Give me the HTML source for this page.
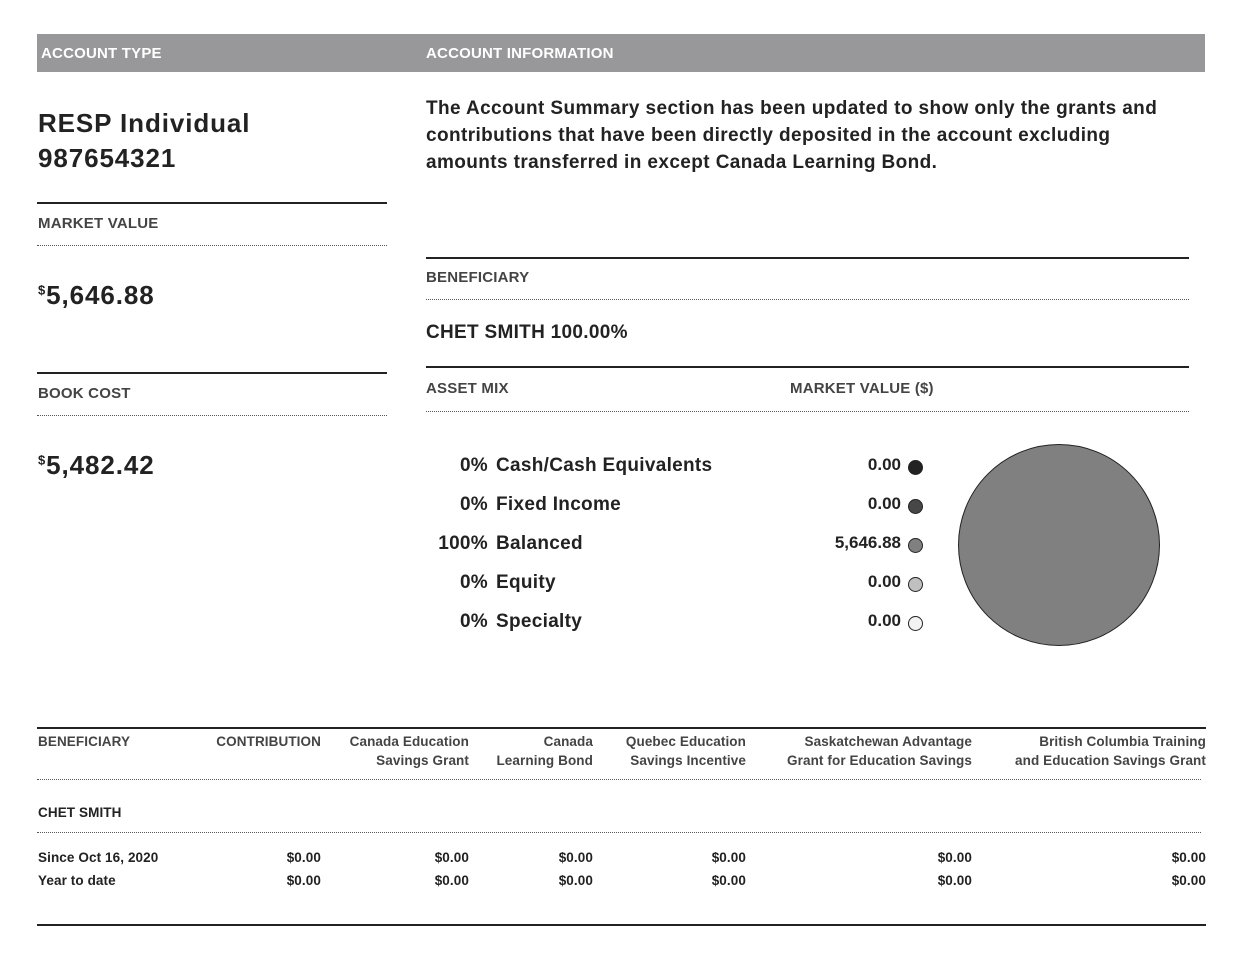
<!DOCTYPE html>
<html><head><meta charset="utf-8"><style>
*{margin:0;padding:0;box-sizing:border-box}
body{width:1246px;height:974px;background:#fff;font-family:"Liberation Sans",sans-serif;color:#222;position:relative;overflow:hidden}
.a{position:absolute;white-space:nowrap;font-weight:bold}
.hdr{position:absolute;left:37px;top:34px;width:1168px;height:38px;background:#98989a}
.hl{position:absolute;color:#fff;font-size:15px;top:45px;letter-spacing:0.2px}
.line{position:absolute;height:2px;background:#222}
.dot{position:absolute;border-top:1px dotted #555;height:0}
.lab{font-size:15px;color:#444;letter-spacing:0.2px}
.big{font-size:26px;letter-spacing:0.9px}
.r{text-align:right}
.c{position:absolute;border-radius:50%;border:1px solid #222;width:15px;height:15px}
.am{font-size:19px;letter-spacing:0.3px}
.th{font-size:13.5px;color:#444;line-height:19px;letter-spacing:0.1px}
.td{font-size:13.5px;letter-spacing:0.1px}
</style></head><body>
<div class="hdr"></div>
<div class="hl a" style="left:41px">ACCOUNT TYPE</div>
<div class="hl a" style="left:426px">ACCOUNT INFORMATION</div>

<div class="a big" style="left:38px;top:106px;line-height:35px">RESP Individual<br>987654321</div>
<div class="a" style="left:426px;top:95px;font-size:19px;line-height:27px;letter-spacing:0.4px">The Account Summary section has been updated to show only the grants and<br>contributions that have been directly deposited in the account excluding<br>amounts transferred in except Canada Learning Bond.</div>

<div class="line" style="left:37px;top:202px;width:350px"></div>
<div class="a lab" style="left:38px;top:215px">MARKET VALUE</div>
<div class="dot" style="left:37px;top:245px;width:350px"></div>
<div class="a big" style="left:38px;top:280px"><sup style="font-size:13px">$</sup>5,646.88</div>

<div class="line" style="left:37px;top:372px;width:350px"></div>
<div class="a lab" style="left:38px;top:385px">BOOK COST</div>
<div class="dot" style="left:37px;top:415px;width:350px"></div>
<div class="a big" style="left:38px;top:450px"><sup style="font-size:13px">$</sup>5,482.42</div>

<div class="line" style="left:426px;top:257px;width:763px"></div>
<div class="a lab" style="left:426px;top:269px">BENEFICIARY</div>
<div class="dot" style="left:426px;top:299px;width:763px"></div>
<div class="a" style="left:426px;top:322px;font-size:19px;letter-spacing:0.3px">CHET SMITH 100.00%</div>

<div class="line" style="left:426px;top:366px;width:763px"></div>
<div class="a lab" style="left:426px;top:380px">ASSET MIX</div>
<div class="a lab" style="left:790px;top:380px">MARKET VALUE ($)</div>
<div class="dot" style="left:426px;top:411px;width:763px"></div>

<div class="a am r" style="left:420px;width:68px;top:455px">0%</div><div class="a am" style="left:496px;top:455px">Cash/Cash Equivalents</div>
<div class="a am r" style="left:420px;width:68px;top:494px">0%</div><div class="a am" style="left:496px;top:494px">Fixed Income</div>
<div class="a am r" style="left:420px;width:68px;top:533px">100%</div><div class="a am" style="left:496px;top:533px">Balanced</div>
<div class="a am r" style="left:420px;width:68px;top:572px">0%</div><div class="a am" style="left:496px;top:572px">Equity</div>
<div class="a am r" style="left:420px;width:68px;top:611px">0%</div><div class="a am" style="left:496px;top:611px">Specialty</div>

<div class="a r" style="left:780px;width:121px;top:455px;font-size:17px">0.00</div>
<div class="a r" style="left:780px;width:121px;top:494px;font-size:17px">0.00</div>
<div class="a r" style="left:780px;width:121px;top:533px;font-size:17px">5,646.88</div>
<div class="a r" style="left:780px;width:121px;top:572px;font-size:17px">0.00</div>
<div class="a r" style="left:780px;width:121px;top:611px;font-size:17px">0.00</div>
<div class="c" style="left:908px;top:460px;background:#222"></div>
<div class="c" style="left:908px;top:499px;background:#474747"></div>
<div class="c" style="left:908px;top:538px;background:#808080"></div>
<div class="c" style="left:908px;top:577px;background:#c0c0c0"></div>
<div class="c" style="left:908px;top:616px;background:#f2f2f2"></div>
<div style="position:absolute;left:958px;top:444px;width:202px;height:202px;border-radius:50%;background:#808080;border:1.5px solid #222"></div>

<div class="line" style="left:37px;top:727px;width:1169px"></div>
<div class="a th" style="left:38px;top:732px">BENEFICIARY</div>
<div class="a th r" style="left:180px;width:141px;top:732px">CONTRIBUTION</div>
<div class="a th r" style="left:320px;width:149px;top:732px">Canada Education<br>Savings Grant</div>
<div class="a th r" style="left:470px;width:123px;top:732px">Canada<br>Learning Bond</div>
<div class="a th r" style="left:600px;width:146px;top:732px">Quebec Education<br>Savings Incentive</div>
<div class="a th r" style="left:760px;width:212px;top:732px">Saskatchewan Advantage<br>Grant for Education Savings</div>
<div class="a th r" style="left:980px;width:226px;top:732px">British Columbia Training<br>and Education Savings Grant</div>
<div class="dot" style="left:37px;top:779px;width:1164px"></div>
<div class="a td" style="left:38px;top:805px">CHET SMITH</div>
<div class="dot" style="left:37px;top:832px;width:1164px"></div>
<div class="a td" style="left:38px;top:850px">Since Oct 16, 2020</div>
<div class="a td" style="left:38px;top:873px">Year to date</div>
<div class="a td r" style="left:220px;width:101px;top:850px">$0.00</div><div class="a td r" style="left:220px;width:101px;top:873px">$0.00</div>
<div class="a td r" style="left:369px;width:100px;top:850px">$0.00</div><div class="a td r" style="left:369px;width:100px;top:873px">$0.00</div>
<div class="a td r" style="left:493px;width:100px;top:850px">$0.00</div><div class="a td r" style="left:493px;width:100px;top:873px">$0.00</div>
<div class="a td r" style="left:646px;width:100px;top:850px">$0.00</div><div class="a td r" style="left:646px;width:100px;top:873px">$0.00</div>
<div class="a td r" style="left:872px;width:100px;top:850px">$0.00</div><div class="a td r" style="left:872px;width:100px;top:873px">$0.00</div>
<div class="a td r" style="left:1106px;width:100px;top:850px">$0.00</div><div class="a td r" style="left:1106px;width:100px;top:873px">$0.00</div>
<div class="line" style="left:37px;top:924px;width:1169px"></div>
</body></html>
